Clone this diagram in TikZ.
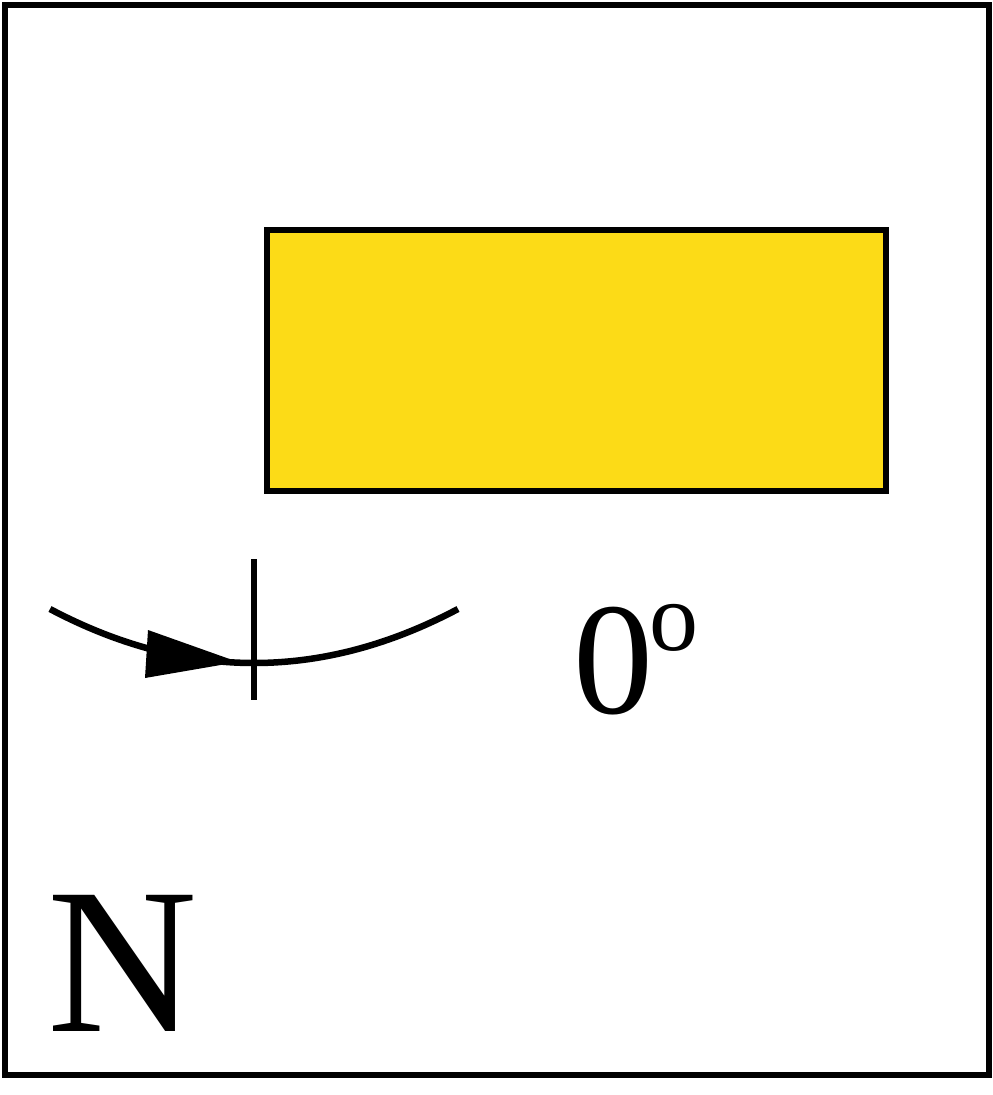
\documentclass[tikz,border=0pt]{standalone}
\usepackage{fontspec}
\setmainfont{Liberation Serif}
\definecolor{boxyellow}{RGB}{252,219,23}
\begin{document}
\begin{tikzpicture}[x=1pt,y=-1pt,
  frame/.style={draw=black,line width=6pt},
  panel/.style={draw=black,line width=6.5pt,fill=boxyellow},
  arcline/.style={draw=black,line width=6.5pt},
  lbl/.style={inner sep=0pt,anchor=base west,text=black}]
\useasboundingbox (0,0) rectangle (993,1095);
\draw[frame] (5,5) rectangle (989,1075);
\draw[panel] (267,230) rectangle (886,491);
\coordinate (s) at (50,609);
\coordinate (e) at (458,609);
\draw[arcline] (s) .. controls (186,681) and (322,681) .. (e);
\fill[black] (148,630) -- (238,662) -- (145,678) -- cycle;
\coordinate (t1) at (254,559);
\coordinate (t2) at (254,700);
\draw[arcline] (t1) -- (t2);
\node[lbl,font=\fontsize{160}{160}\selectfont] (zero) at (573,713) {0};
\node[lbl,font=\fontsize{98}{98}\selectfont] (deg) at (649,650) {o};
\node[lbl,font=\fontsize{208}{208}\selectfont] (north) at (47,1031) {N};
\end{tikzpicture}
\end{document}
